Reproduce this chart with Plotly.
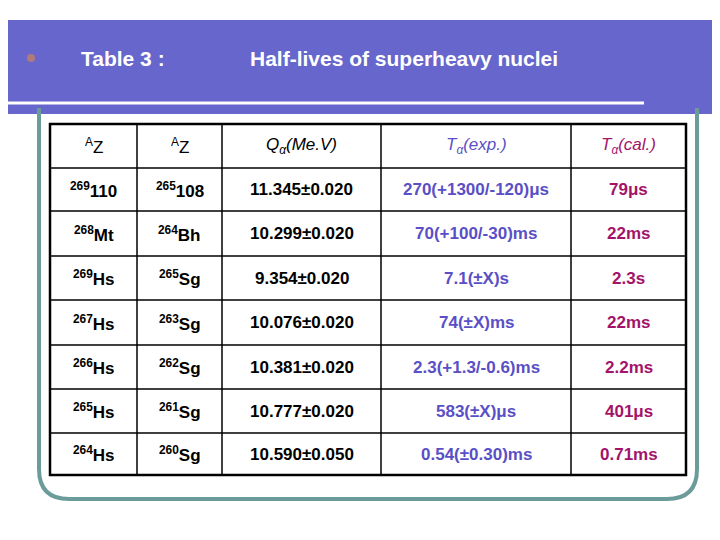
import plotly.graph_objects as go

col_headers = ["<sup>A</sup>Z", "<sup>A</sup>Z", "Q<sub>α</sub>(Me.V)", "T<sub>α</sub>(exp.)", "T<sub>α</sub>(cal.)"]
parent = ["<sup>269</sup>110", "<sup>268</sup>Mt", "<sup>269</sup>Hs", "<sup>267</sup>Hs", "<sup>266</sup>Hs", "<sup>265</sup>Hs", "<sup>264</sup>Hs"]
daughter = ["<sup>265</sup>108", "<sup>264</sup>Bh", "<sup>265</sup>Sg", "<sup>263</sup>Sg", "<sup>262</sup>Sg", "<sup>261</sup>Sg", "<sup>260</sup>Sg"]
q_alpha = ["11.345±0.020", "10.299±0.020", "9.354±0.020", "10.076±0.020", "10.381±0.020", "10.777±0.020", "10.590±0.050"]
t_exp = ["270(+1300/-120)μs", "70(+100/-30)ms", "7.1(±X)s", "74(±X)ms", "2.3(+1.3/-0.6)ms", "583(±X)μs", "0.54(±0.30)ms"]
t_cal = ["79μs", "22ms", "2.3s", "22ms", "2.2ms", "401μs", "0.71ms"]

col_x = [42, 129, 214, 373, 563, 678]
row_y = [116, 160, 203, 248, 292, 337, 381, 425, 467]
colors = ["black", "black", "black", "#5a4fc6", "#a3136a"]
FONT = "Liberation Sans, Arial, sans-serif"

fig = go.Figure()
shapes = []
shapes.append(dict(type="rect", x0=0, x1=720, y0=12, y1=106, fillcolor="#6666cc", line_width=0, layer="below"))
shapes.append(dict(type="line", x0=0, x1=636, y0=95, y1=95, line=dict(color="white", width=3)))
r = 30
L, R, T, B = 31, 689, 100, 491
path = (f"M {L},{T} L {L},{B-r} Q {L},{B} {L+r},{B} L {R-r},{B} Q {R},{B} {R},{B-r} L {R},{T}")
shapes.append(dict(type="path", path=path, line=dict(color="#6b9c9a", width=4), layer="below"))
shapes.append(dict(type="rect", x0=col_x[0], x1=col_x[-1], y0=row_y[0], y1=row_y[-1], fillcolor="white", line=dict(color="black", width=2.5)))
for x in col_x[1:-1]:
    shapes.append(dict(type="line", x0=x, x1=x, y0=row_y[0], y1=row_y[-1], line=dict(color="black", width=1.5)))
for y in row_y[1:-1]:
    shapes.append(dict(type="line", x0=col_x[0], x1=col_x[-1], y0=y, y1=y, line=dict(color="black", width=1.5)))
shapes.append(dict(type="circle", x0=19, x1=27, y0=46, y1=54, fillcolor="#b07a7a", line_width=0))

ann = []
ann.append(dict(x=71, y=50, text="<b>Table 3 :</b>", showarrow=False, xanchor="left", font=dict(family=FONT, size=21, color="white")))
ann.append(dict(x=240, y=50, text="<b>Half-lives of superheavy nuclei</b>", showarrow=False, xanchor="left", font=dict(family=FONT, size=21, color="white")))

cols = [parent, daughter, q_alpha, t_exp, t_cal]
for j in range(5):
    cx = (col_x[j] + col_x[j+1]) / 2
    h = col_headers[j]
    ann.append(dict(x=cx, y=(row_y[0]+row_y[1])/2, text=f"<i>{h}</i>" if j >= 2 else h, showarrow=False,
                    font=dict(family=FONT, size=17, color=colors[j])))
    for i, v in enumerate(cols[j]):
        ann.append(dict(x=cx, y=(row_y[i+1]+row_y[i+2])/2, text=f"<b>{v}</b>", showarrow=False,
                        font=dict(family=FONT, size=17, color=colors[j])))

fig.update_layout(width=720, height=540, margin=dict(l=0, r=0, t=0, b=0),
                  paper_bgcolor="white", plot_bgcolor="white",
                  xaxis=dict(range=[0, 720], visible=False, fixedrange=True),
                  yaxis=dict(range=[540, 0], visible=False, fixedrange=True),
                  shapes=shapes, annotations=ann, showlegend=False)
fig.write_html("out.html")
